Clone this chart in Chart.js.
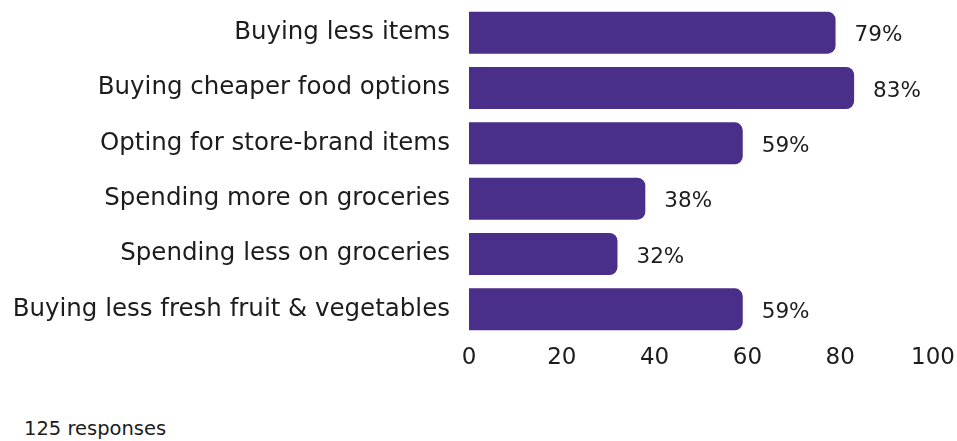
<!DOCTYPE html>
<html>
<head>
<meta charset="utf-8">
<script src="https://cdn.jsdelivr.net/npm/chart.js@4/dist/chart.umd.min.js"></script>
<style>
  html, body { margin: 0; padding: 0; background: #ffffff; }
  #wrap { position: relative; width: 957px; height: 441px; }
  #box { position: absolute; left: 0; top: 0; width: 957px; height: 377px; }
  #note { position: absolute; left: 24px; top: 417px; font: 19.5px "DejaVu Sans", sans-serif; color: #1c1c1c; }
</style>
</head>
<body>
<div id="wrap">
  <div id="box"><canvas id="c"></canvas></div>
  <div id="note">125 responses</div>
</div>
<script>
// Grocery-shopping behaviour survey results (% of respondents)
const categories = [
  "Buying less items",
  "Buying cheaper food options",
  "Opting for store-brand items",
  "Spending more on groceries",
  "Spending less on groceries",
  "Buying less fresh fruit & vegetables"
];
const percentages = [79, 83, 59, 38, 32, 59];
const tickValues = [0, 20, 40, 60, 80, 100];

const FONT = '"DejaVu Sans", sans-serif';
const INK = '#1c1c1c';
const BAR = '#4a2f8a';

// Writes "NN%" just past the end of each bar
const valueLabels = {
  id: 'valueLabels',
  afterDatasetsDraw(chart) {
    const ctx = chart.ctx;
    const meta = chart.getDatasetMeta(0);
    ctx.save();
    ctx.font = '21.5px ' + FONT;
    ctx.fillStyle = INK;
    ctx.textAlign = 'left';
    ctx.textBaseline = 'middle';
    meta.data.forEach((bar, i) => {
      ctx.fillText(percentages[i] + '%', bar.x + 19, bar.y + 3);
    });
    ctx.restore();
  }
};

new Chart(document.getElementById('c'), {
  type: 'bar',
  data: {
    labels: categories,
    datasets: [{
      data: percentages,
      backgroundColor: BAR,
      borderRadius: 8,
      borderSkipped: 'start',
      barPercentage: 0.76,
      categoryPercentage: 1.0
    }]
  },
  options: {
    indexAxis: 'y',
    responsive: true,
    maintainAspectRatio: false,
    animation: false,
    layout: { padding: { top: 5, right: 24, bottom: 0, left: 0 } },
    plugins: {
      legend: { display: false },
      tooltip: { enabled: false }
    },
    scales: {
      x: {
        min: 0,
        max: 100,
        afterBuildTicks(scale) {
          scale.ticks = tickValues.map(v => ({ value: v }));
        },
        afterFit(scale) {
          scale.height = 40;
          scale.paddingLeft = 0;
          scale.paddingRight = 0;
        },
        grid: { display: false, drawTicks: false },
        border: { display: false },
        ticks: {
          padding: 7,
          color: INK,
          font: { family: FONT, size: 23 }
        }
      },
      y: {
        afterFit(scale) {
          scale.width = 469;
          scale.paddingTop = 0;
          scale.paddingBottom = 0;
        },
        grid: { display: false, drawTicks: false },
        border: { display: false },
        ticks: {
          padding: 19,
          color: INK,
          font: { family: FONT, size: 24.5 }
        }
      }
    }
  },
  plugins: [valueLabels]
});
</script>
</body>
</html>
